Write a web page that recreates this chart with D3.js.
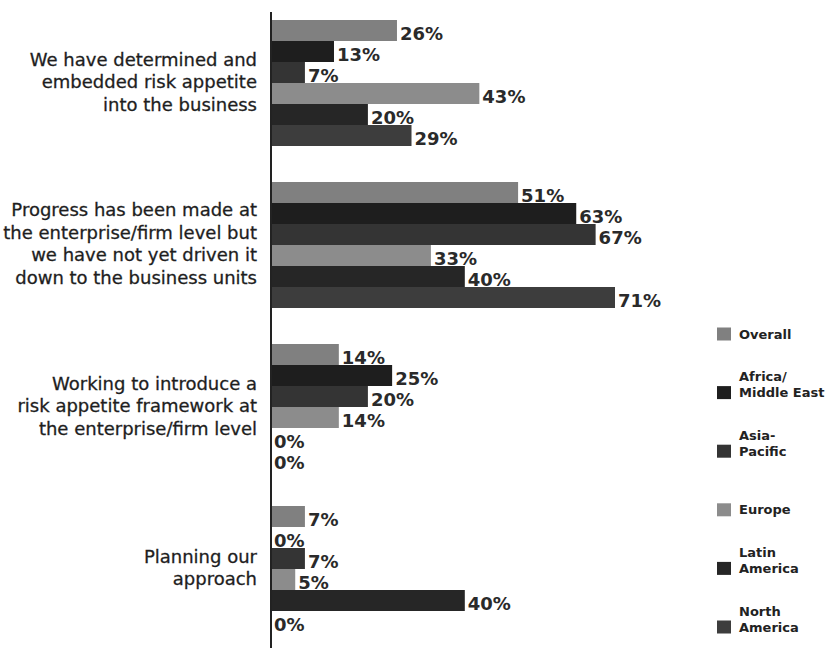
<!DOCTYPE html>
<html>
<head>
<meta charset="utf-8">
<script src="https://cdn.jsdelivr.net/npm/d3@7/dist/d3.min.js"></script>
<style>
  html, body { margin: 0; padding: 0; background: #fff; }
  svg { display: block; }
</style>
</head>
<body>
<svg id="chart" width="830" height="650"></svg>
<script>
const categories = [
  ["We have determined and", "embedded risk appetite", "into the business"],
  ["Progress has been made at", "the enterprise/firm level but", "we have not yet driven it", "down to the business units"],
  ["Working to introduce a", "risk appetite framework at", "the enterprise/firm level"],
  ["Planning our", "approach"]
];
const seriesNames = ["Overall", "Africa/Middle East", "Asia-Pacific", "Europe", "Latin America", "North America"];
const legendLines = [["Overall"], ["Africa/", "Middle East"], ["Asia-", "Pacific"], ["Europe"], ["Latin", "America"], ["North", "America"]];
const overall      = [26, 51, 14, 7];
const africaME     = [13, 63, 25, 0];
const asiaPacific  = [7, 67, 20, 7];
const europe       = [43, 33, 14, 5];
const latinAmerica = [20, 40, 0, 40];
const northAmerica = [29, 71, 0, 0];
const seriesValues = [overall, africaME, asiaPacific, europe, latinAmerica, northAmerica];
const colors = ["#808080", "#1e1e1e", "#343434", "#8c8c8c", "#262626", "#3d3d3d"];

const svg = d3.select("#chart");
const axisX = 271;

const y0 = d3.scaleBand()
  .domain(d3.range(categories.length))
  .range([2, 650])
  .paddingInner(36 / 162)
  .paddingOuter(1 / 9);
const y1 = d3.scaleBand()
  .domain(d3.range(seriesNames.length))
  .range([0, y0.bandwidth()]);
const x = d3.scaleLinear().domain([0, 71]).range([axisX, 615]);

const groups = svg.append("g").selectAll("g")
  .data(categories)
  .join("g")
  .attr("transform", (d, i) => `translate(0,${y0(i)})`);

groups.each(function(cat, ci) {
  const g = d3.select(this);
  const rows = seriesNames.map((s, si) => ({ si, v: seriesValues[si][ci] }));
  g.selectAll("rect")
    .data(rows)
    .join("rect")
    .attr("x", x(0))
    .attr("y", d => y1(d.si))
    .attr("width", d => x(d.v) - x(0))
    .attr("height", y1.bandwidth())
    .attr("fill", d => colors[d.si]);
  g.selectAll("text.val")
    .data(rows)
    .join("text")
    .attr("class", "val")
    .attr("x", d => x(d.v) + 3)
    .attr("y", d => y1(d.si) + y1.bandwidth() - 1)
    .attr("font-family", "DejaVu Sans")
    .attr("font-weight", "bold")
    .attr("font-size", 18)
    .attr("fill", "#2a2a2a")
    .text(d => d.v + "%");

  // category label
  const lh = 22.5;
  const cy = y0.bandwidth() / 2;
  const t = g.append("text")
    .attr("text-anchor", "end")
    .attr("font-family", "DejaVu Sans")
    .attr("font-size", 18)
    .attr("fill", "#1e1e1e")
    .attr("stroke", "#1e1e1e")
    .attr("stroke-width", 0.3);
  cat.forEach((line, li) => {
    t.append("tspan")
      .attr("x", 257)
      .attr("y", cy + (li - (cat.length - 1) / 2) * lh + 5)
      .text(line);
  });
});

// axis line
svg.append("line")
  .attr("x1", axisX).attr("x2", axisX)
  .attr("y1", 12).attr("y2", 648)
  .attr("stroke", "#222").attr("stroke-width", 2);

// legend
const legendY = d3.scalePoint().domain(d3.range(seriesNames.length)).range([334, 627]);
const leg = svg.append("g").selectAll("g")
  .data(seriesNames)
  .join("g")
  .attr("transform", (d, i) => `translate(717,${legendY(i)})`);
leg.append("rect")
  .attr("x", 0).attr("y", -6.5)
  .attr("width", 14).attr("height", 13)
  .attr("fill", (d, i) => colors[i]);
leg.each(function(d, i) {
  const lines = legendLines[i];
  const t = d3.select(this).append("text")
    .attr("font-family", "DejaVu Sans")
    .attr("font-weight", "bold")
    .attr("font-size", 13)
    .attr("fill", "#222");
  lines.forEach((line, li) => {
    t.append("tspan")
      .attr("x", 22)
      .attr("y", 4.5 - (lines.length - 1 - li) * 16)
      .text(line);
  });
});
</script>
</body>
</html>
